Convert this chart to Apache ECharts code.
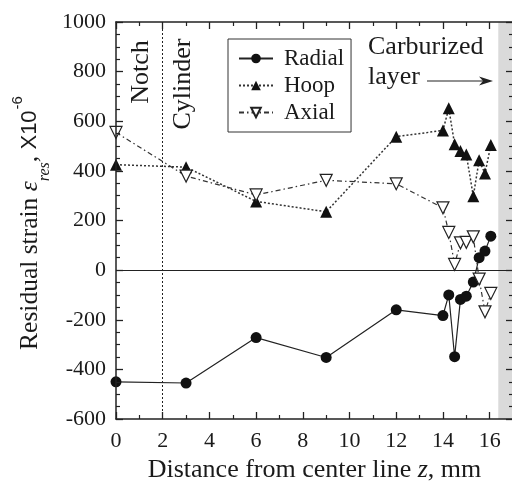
<!DOCTYPE html>
<html>
<head>
<meta charset="utf-8">
<title>Residual strain profile</title>
<script src="https://cdn.jsdelivr.net/npm/echarts@6/dist/echarts.min.js"></script>
<style>
  html, body { margin: 0; padding: 0; background: #ffffff; }
  #chart { width: 512px; height: 489px; }
</style>
</head>
<body>
<div id="chart"></div>
<script>
// Measurement positions, distance from the centre line (mm)
const distance = [0, 3, 6, 9, 12, 14.0, 14.25, 14.5, 14.75, 15.0, 15.3, 15.55, 15.8, 16.05];

// Residual strain components (x10^-6)
const radialStrain = [-450, -455, -272, -352, -160, -183, -100, -349, -118, -105, -48, 50, 77, 137];
const hoopStrain   = [425, 415, 277, 235, 538, 563, 652, 507, 480, 466, 298, 443, 389, 504];
const axialStrain  = [555, 379, 303, 362, 348, 251, 152, 23, 110, 112, 134, -36, -168, -94];

// Axis ranges
const xRange = { min: 0, max: 17, step: 2 };
const yRange = { min: -600, max: 1000, step: 200 };

// Region markers
const notchEdge = 2;
const carburizedStart = 16.37;

const FONT = 'Liberation Serif';
const SANS = 'Liberation Sans';
const INK = '#1a1a1a';

const pairs = (ys) => distance.map((x, i) => [x, ys[i]]);

const chart = echarts.init(document.getElementById('chart'), null, { renderer: 'canvas' });

const axisLineStyle = { onZero: false, lineStyle: { color: '#222', width: 1.5 } };
const majorTick = { show: true, inside: true, length: 7, lineStyle: { color: '#222', width: 1.3 } };
const minorTickX = { show: true, splitNumber: 2, length: 4, lineStyle: { color: '#222', width: 1.2 } };
const minorTickY = { show: true, splitNumber: 4, length: 4, lineStyle: { color: '#222', width: 1.2 } };
const plainNumber = (v) => String(v);

const option = {
  animation: false,
  backgroundColor: '#ffffff',
  grid: { left: 116, top: 22, width: 397, height: 397, containLabel: false, outerBoundsMode: 'none' },
  legend: {
    data: ['Radial', 'Hoop', 'Axial'],
    orient: 'vertical',
    left: 228,
    top: 39,
    backgroundColor: '#ffffff',
    borderColor: '#333',
    borderWidth: 1,
    padding: [8, 7, 8, 10],
    itemGap: 4,
    itemWidth: 34,
    itemHeight: 12,
    textStyle: { fontFamily: FONT, fontSize: 23, color: INK, lineHeight: 23, padding: [0, 0, 0, 6] }
  },
  xAxis: [
    {
      type: 'value', position: 'bottom', z: 10,
      min: xRange.min, max: xRange.max, interval: xRange.step,
      axisLine: axisLineStyle, axisTick: majorTick, minorTick: minorTickX,
      splitLine: { show: false },
      axisLabel: { fontFamily: FONT, fontSize: 22, color: INK, margin: 11, showMaxLabel: false, formatter: plainNumber },
      name: 'Distance from center line {i|z}, mm',
      nameLocation: 'middle',
      nameGap: 38,
      nameTextStyle: {
        fontFamily: FONT, fontSize: 26, color: INK,
        rich: { i: { fontFamily: FONT, fontSize: 26, fontStyle: 'italic', color: INK } }
      }
    },
    {
      type: 'value', position: 'top', z: 10,
      min: xRange.min, max: xRange.max, interval: xRange.step,
      axisLine: axisLineStyle, axisTick: majorTick, minorTick: minorTickX,
      splitLine: { show: false }, axisLabel: { show: false }
    }
  ],
  yAxis: [
    {
      type: 'value', position: 'left', z: 10,
      min: yRange.min, max: yRange.max, interval: yRange.step,
      axisLine: axisLineStyle, axisTick: majorTick, minorTick: minorTickY,
      splitLine: { show: false },
      axisLabel: { fontFamily: FONT, fontSize: 22, color: INK, margin: 10, formatter: plainNumber }
    },
    {
      type: 'value', position: 'right', z: 10,
      min: yRange.min, max: yRange.max, interval: yRange.step,
      axisLine: axisLineStyle, axisTick: majorTick, minorTick: minorTickY,
      splitLine: { show: false }, axisLabel: { show: false }
    }
  ],
  series: [
    {
      // reference lines and the shaded carburized layer
      name: 'markers',
      type: 'line',
      data: [],
      z: -1,
      silent: true,
      markArea: {
        silent: true,
        itemStyle: { color: '#dadada' },
        data: [[{ xAxis: carburizedStart }, { xAxis: xRange.max }]]
      },
      markLine: {
        silent: true,
        symbol: 'none',
        label: { show: false },
        data: [
          { yAxis: 0, lineStyle: { color: '#222', width: 1.1, type: 'solid' } },
          { xAxis: notchEdge, lineStyle: { color: '#222', width: 1, type: [2, 2] } }
        ]
      }
    },
    {
      name: 'Radial',
      type: 'line',
      data: pairs(radialStrain),
      symbol: 'circle',
      symbolSize: 11,
      itemStyle: { color: '#111' },
      lineStyle: { color: '#222', width: 1.2, type: 'solid' },
      z: 3
    },
    {
      name: 'Hoop',
      type: 'line',
      data: pairs(hoopStrain),
      symbol: 'triangle',
      symbolSize: 12,
      itemStyle: { color: '#111' },
      lineStyle: { color: '#333', width: 1.5, type: [2, 2] },
      z: 3
    },
    {
      name: 'Axial',
      type: 'line',
      data: pairs(axialStrain),
      symbol: 'triangle',
      symbolRotate: 180,
      symbolSize: 12,
      itemStyle: { color: '#ffffff', borderColor: '#222', borderWidth: 1.2 },
      lineStyle: { color: '#333', width: 1.2, type: [5, 3, 1.5, 3] },
      z: 3
    }
  ],
  graphic: [
    {
      type: 'text', x: 30, y: 223, rotation: Math.PI / 2,
      style: {
        text: '{a|Residual strain }{e|ε}{s|res}{c|, }{x|X10}{p|-6}',
        align: 'center', verticalAlign: 'middle',
        rich: {
          a: { fontFamily: FONT, fontSize: 25.5, lineHeight: 46, fill: INK },
          c: { fontFamily: FONT, fontSize: 25.5, lineHeight: 46, fill: INK },
          e: { fontFamily: FONT, fontSize: 25.5, fontStyle: 'italic', lineHeight: 46, fill: INK },
          s: { fontFamily: FONT, fontSize: 16, fontStyle: 'italic', lineHeight: 16, verticalAlign: 'bottom', fill: INK },
          x: { fontFamily: SANS, fontSize: 22, lineHeight: 46, fill: INK },
          p: { fontFamily: SANS, fontSize: 15, lineHeight: 15, verticalAlign: 'top', padding: [3, 0, 0, 1], fill: INK }
        }
      }
    },
    {
      type: 'text', x: 141.5, y: 72, rotation: Math.PI / 2,
      style: { text: 'Notch', font: '26px "Liberation Serif"', fill: INK, align: 'center', verticalAlign: 'middle' }
    },
    {
      type: 'text', x: 183, y: 84, rotation: Math.PI / 2,
      style: { text: 'Cylinder', font: '26px "Liberation Serif"', fill: INK, align: 'center', verticalAlign: 'middle' }
    },
    {
      type: 'text', x: 368, y: 47,
      style: { text: 'Carburized', font: '26px "Liberation Serif"', fill: INK, align: 'left', verticalAlign: 'middle' }
    },
    {
      type: 'text', x: 368, y: 77,
      style: { text: 'layer', font: '26px "Liberation Serif"', fill: INK, align: 'left', verticalAlign: 'middle' }
    },
    {
      type: 'line',
      shape: { x1: 427, y1: 81, x2: 486, y2: 81 },
      style: { stroke: '#222', lineWidth: 1.2 }
    },
    {
      type: 'polygon',
      shape: { points: [[493, 81], [479, 76.5], [483, 81], [479, 85.5]] },
      style: { fill: '#222' }
    }
  ]
};

chart.setOption(option);
</script>
</body>
</html>
